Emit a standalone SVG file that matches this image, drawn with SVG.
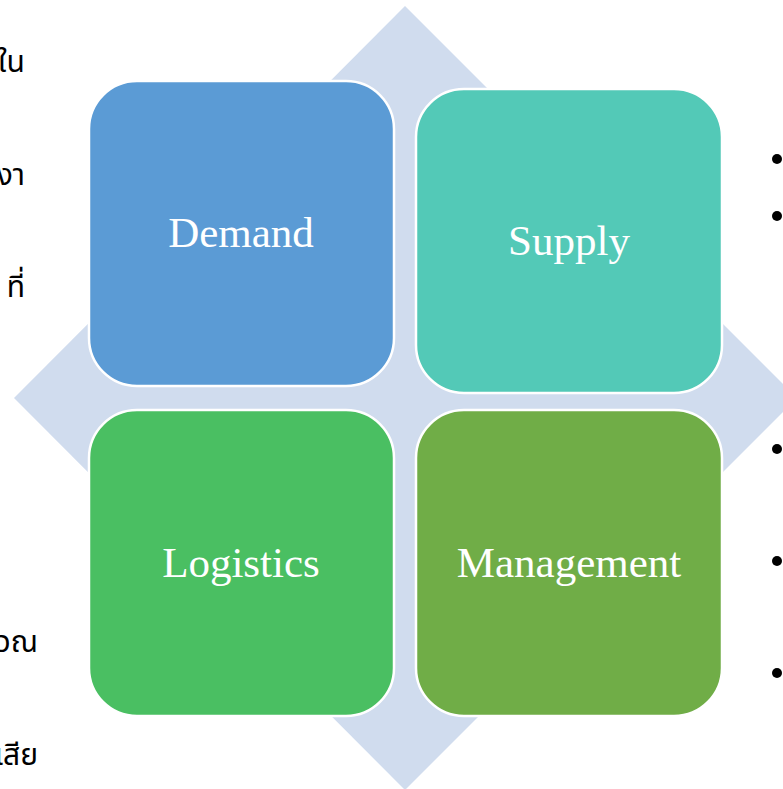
<svg xmlns="http://www.w3.org/2000/svg" width="783" height="789" viewBox="0 0 783 789">
<style>
.box{stroke:#ffffff;stroke-width:2.5}
.lbl{font-family:"Liberation Serif","Times New Roman",serif;font-size:43px;fill:#ffffff;text-anchor:middle}
.th{font-family:"Noto Sans","Noto Sans Thai",sans-serif;font-size:30px;fill:#000000;text-anchor:end}
.dot{fill:#000000}
</style>
<rect width="783" height="789" fill="#ffffff"/>
<polygon id="diamond" points="405,6 797,398 405,790 14,398" fill="#D0DCEE"/>
<g id="connectors"></g>
<g id="demand">
<rect class="box" x="89" y="81" width="305" height="305" rx="48" fill="#5B9BD5"/>
<text class="lbl" x="241" y="247">Demand</text>
</g>
<g id="supply">
<rect class="box" x="416" y="89" width="306" height="304" rx="48" fill="#53C9B7"/>
<text class="lbl" x="569" y="255">Supply</text>
</g>
<g id="logistics">
<rect class="box" x="89" y="410" width="305" height="306" rx="48" fill="#4ABF62"/>
<text class="lbl" x="241" y="577">Logistics</text>
</g>
<g id="management">
<rect class="box" x="416" y="410" width="306" height="306" rx="48" fill="#70AD47"/>
<text class="lbl" x="569" y="577">Management</text>
</g>
<g id="left-text">
<text class="th" x="25" y="72">ใน</text>
<text class="th" x="25" y="185">งา</text>
<text class="th" x="25" y="297">ที่</text>
<text class="th" x="38" y="652">วณ</text>
<text class="th" x="38" y="765">เสีย</text>
</g>
<g id="bullets">
<circle class="dot" cx="777" cy="159" r="5"/>
<circle class="dot" cx="777" cy="216" r="5"/>
<circle class="dot" cx="777" cy="449" r="5"/>
<circle class="dot" cx="777" cy="561" r="5"/>
<circle class="dot" cx="777" cy="673" r="5"/>
</g>
</svg>
